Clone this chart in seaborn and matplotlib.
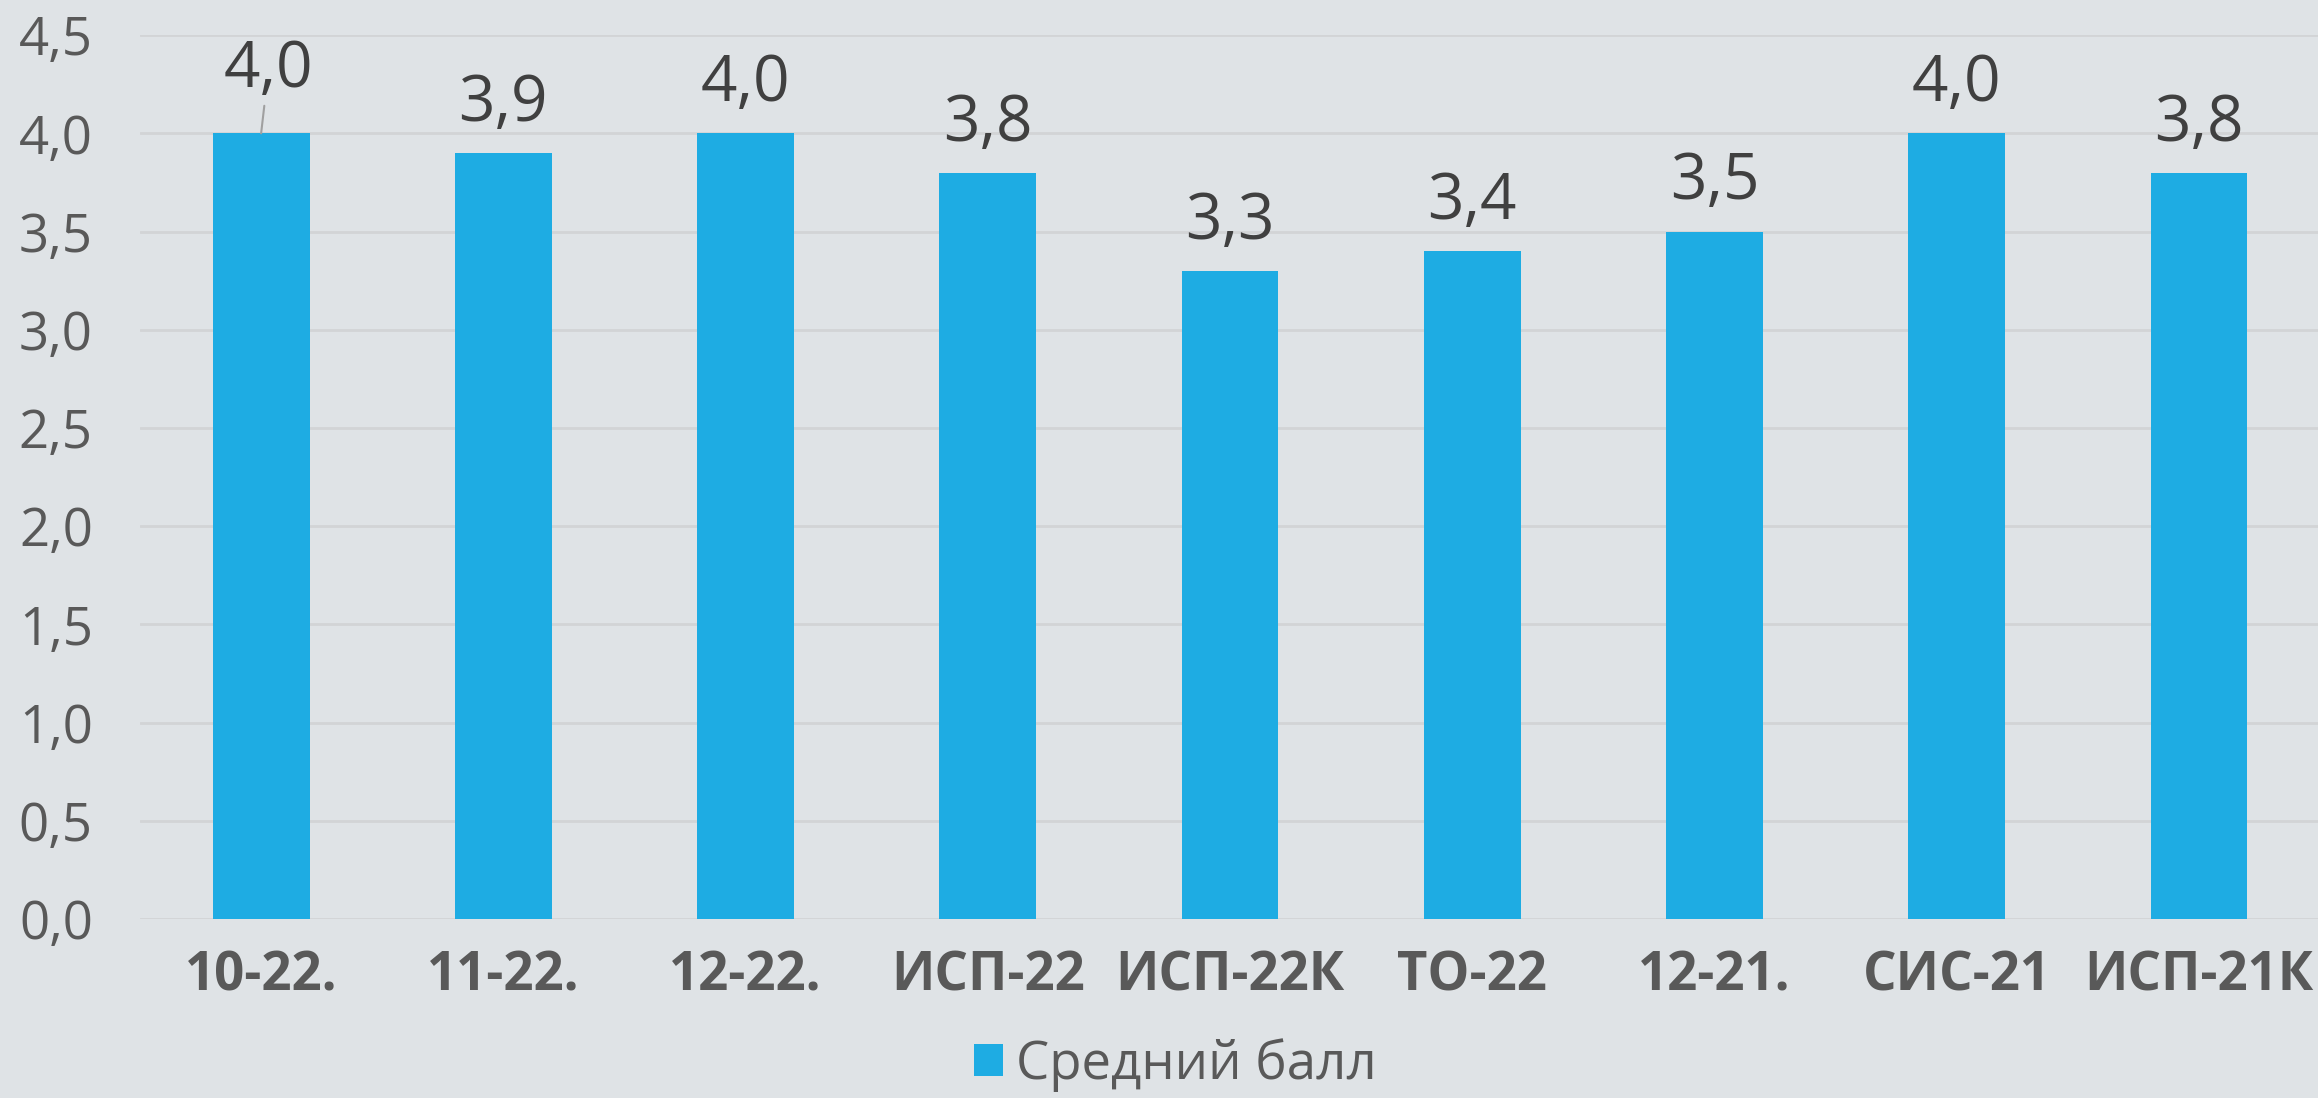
import numpy as np
import pandas as pd
import seaborn as sns
import matplotlib.pyplot as plt

groups = ["10-22.", "11-22.", "12-22.", "ИСП-22", "ИСП-22К", "ТО-22", "12-21.", "СИС-21", "ИСП-21К"]
scores = [4.0, 3.9, 4.0, 3.8, 3.3, 3.4, 3.5, 4.0, 3.8]
yticks = [0.0, 0.5, 1.0, 1.5, 2.0, 2.5, 3.0, 3.5, 4.0, 4.5]
series_name = "Средний балл"

bg = "#dfe3e6"
bar_color = "#1eace3"

sns.set_theme(style="white", rc={"axes.facecolor": bg, "figure.facecolor": bg})
plt.rcParams["font.family"] = ["Open Sans", "DejaVu Sans"]

df = pd.DataFrame(dict(group=groups, score=scores, series=series_name))

fig = plt.figure(figsize=(23.18, 10.98), dpi=100)
ax = fig.add_axes([0.0604, 0.163, 0.9405, 0.805])

sns.barplot(data=df, x="group", y="score", hue="series", palette=[bar_color],
            width=0.4, ax=ax, saturation=1, zorder=3, linewidth=0)

ax.set_ylim(0, 4.5)
ax.set_xlim(-0.5, len(groups) - 0.5)
ax.set_yticks(yticks)
ax.set_yticklabels([f"{v:.1f}".replace(".", ",") for v in yticks])
ax.yaxis.grid(True, color="#d2d4d6", lw=2, zorder=0)
ax.set_axisbelow(True)
ax.tick_params(axis="y", length=0, pad=34, labelsize=38, labelcolor="#595959")
ax.tick_params(axis="x", length=0, pad=22, labelsize=38, labelcolor="#595959")
for t in ax.get_xticklabels():
    t.set_fontweight("bold")
ax.set_xlabel("")
ax.set_ylabel("")
sns.despine(ax=ax, left=True, bottom=True, top=True, right=True)

# data labels
for i, v in enumerate(scores):
    txt = f"{v:.1f}".replace(".", ",")
    if i == 0:
        ax.annotate(txt, xy=(i, v), xytext=(i + 0.03, v + 0.32), ha="center", va="center",
                    fontsize=46, color="#404040",
                    arrowprops=dict(arrowstyle="-", color="#a0a0a0", lw=1.5, shrinkA=26, shrinkB=0))
    else:
        ax.text(i, v + 0.25, txt, ha="center", va="center", fontsize=46, color="#404040")

leg = ax.legend(loc="center", bbox_to_anchor=(0.475, -0.165), frameon=False,
                fontsize=38, handlelength=0.55, handleheight=0.55, handletextpad=0.25,
                borderaxespad=0, borderpad=0)
for t in leg.get_texts():
    t.set_color("#595959")

fig.savefig("out.png", dpi=100, facecolor=bg)
plt.close()
